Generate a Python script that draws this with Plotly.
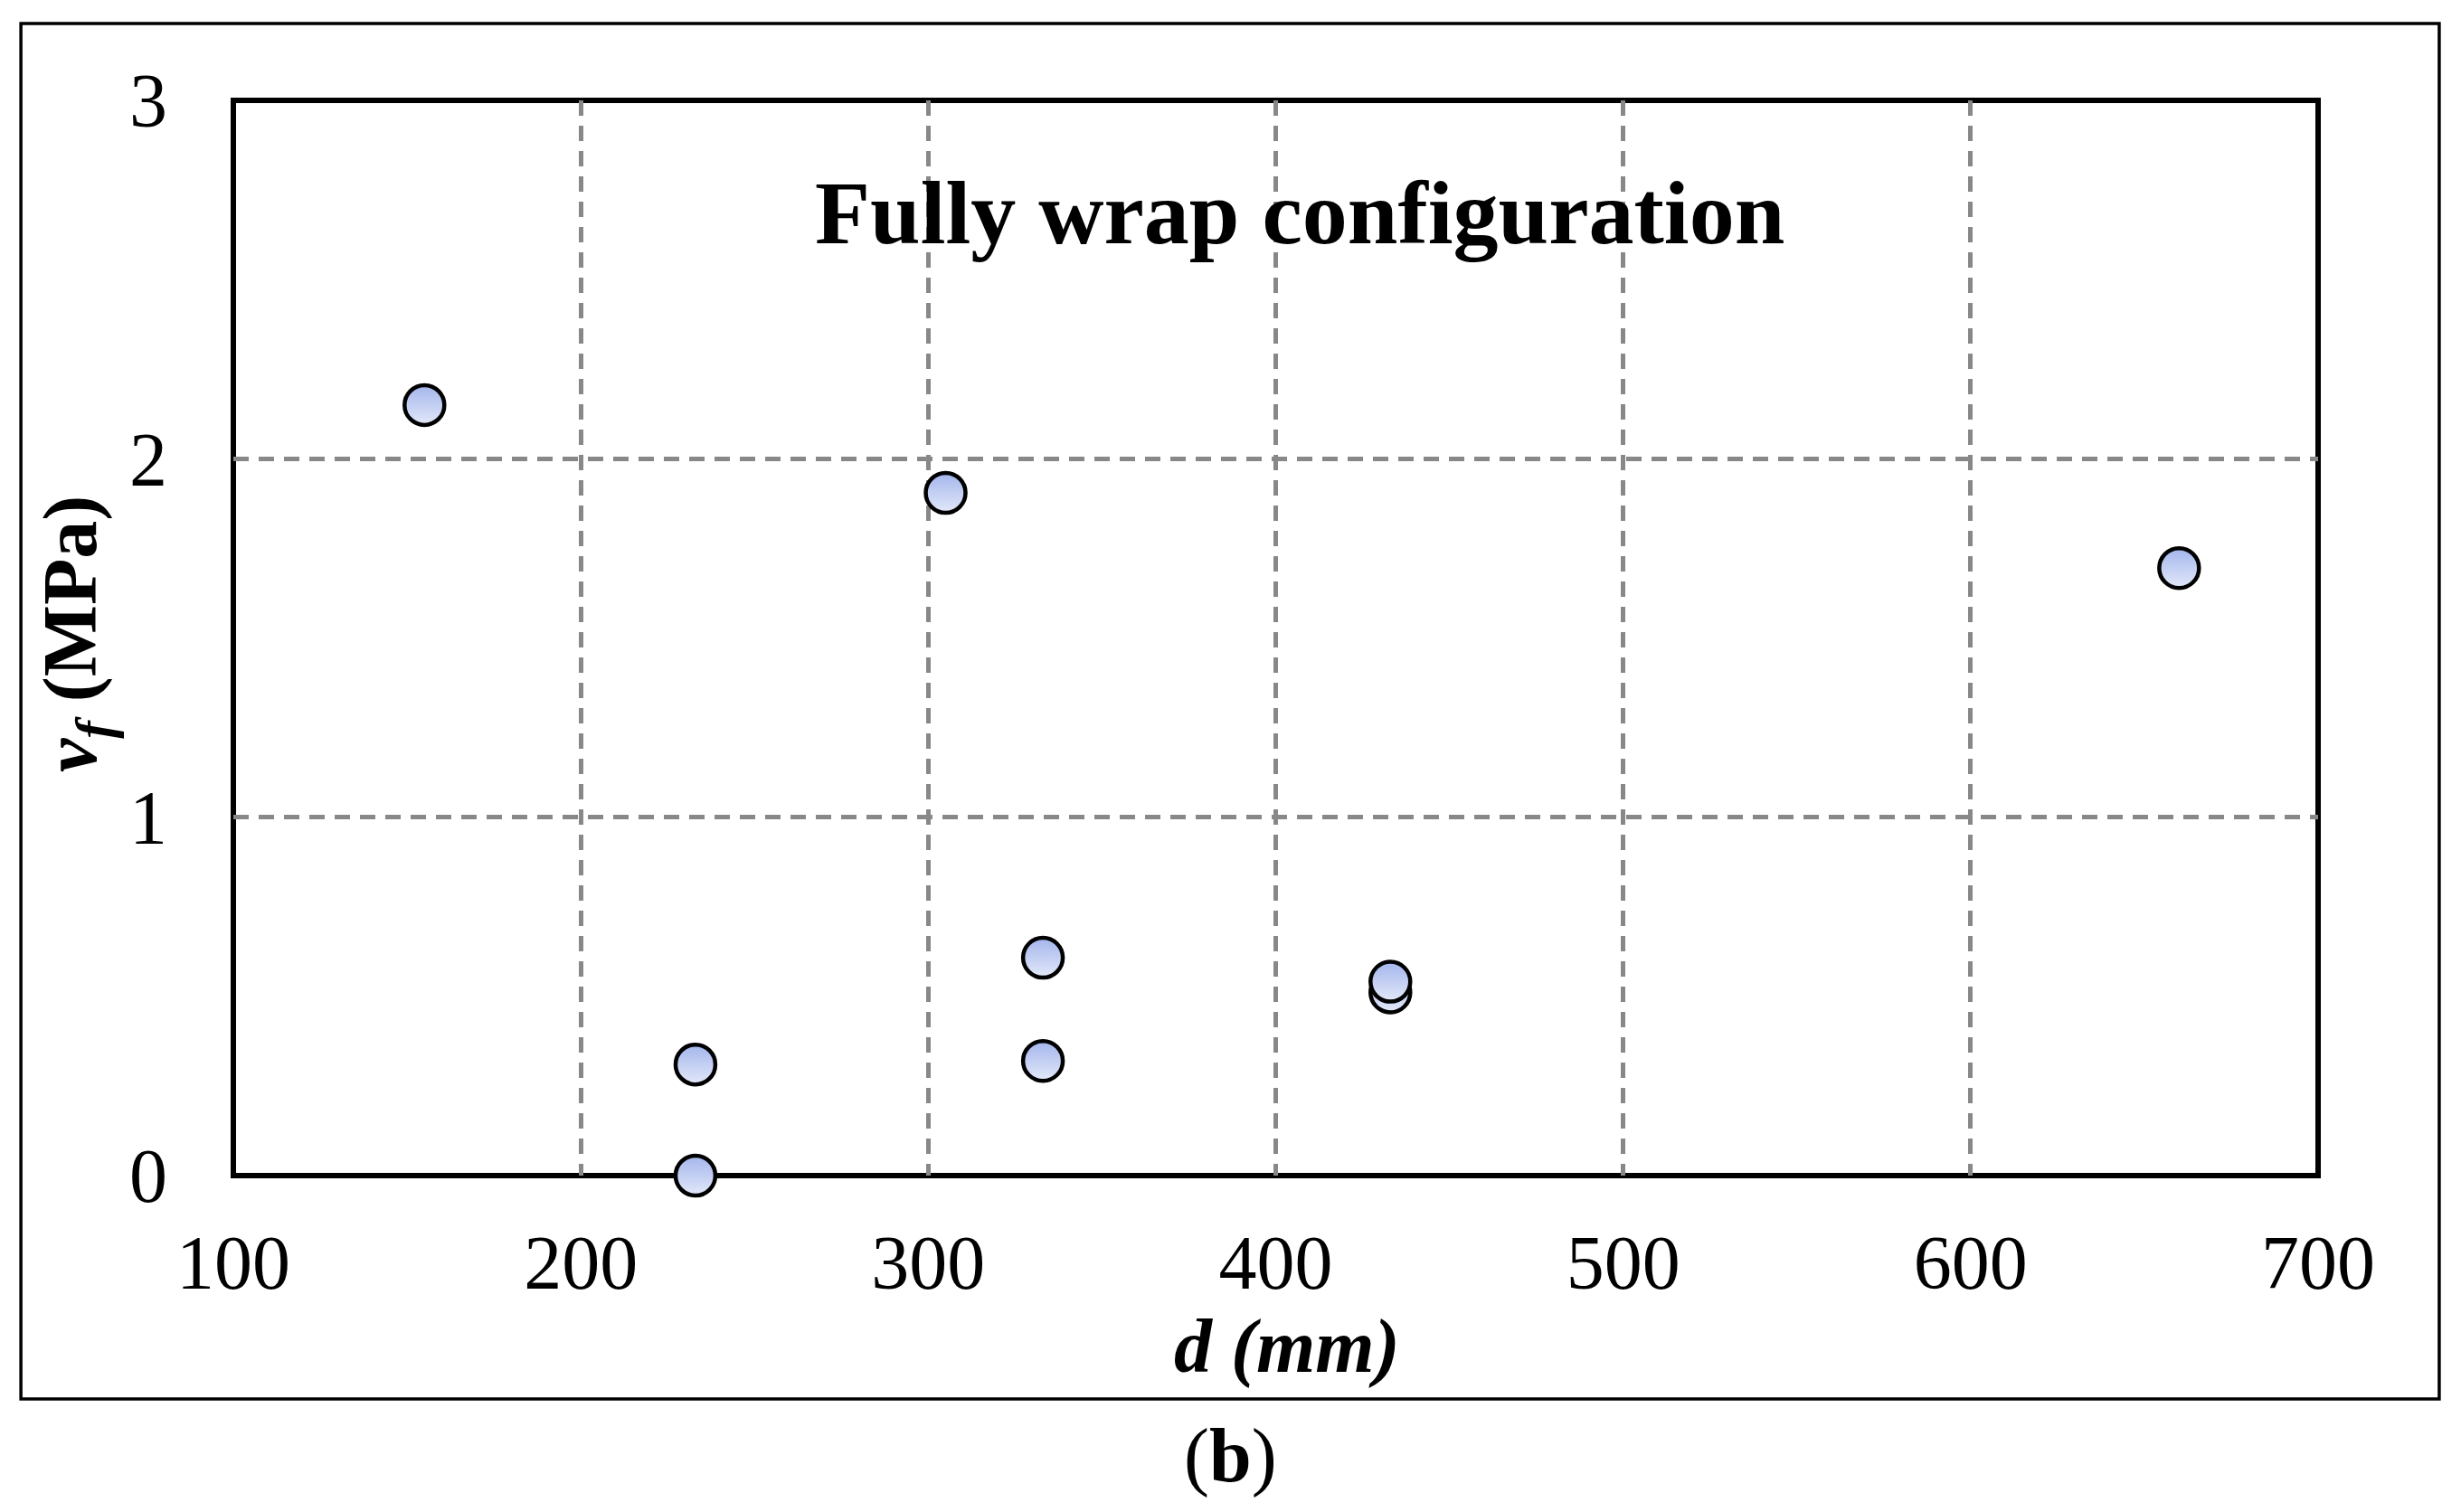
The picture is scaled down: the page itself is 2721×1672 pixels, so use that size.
import plotly.graph_objects as go

# shear contribution of FRP vs effective depth, fully wrapped beams
d_mm = [155, 305, 660, 233, 233, 333, 333, 433, 433]
v_f = [2.15, 1.905, 1.695, 0.31, 0.0, 0.608, 0.32, 0.511, 0.541]

x_ticks = [100, 200, 300, 400, 500, 600, 700]
y_ticks = [0, 1, 2, 3]

serif = "Times New Roman, Liberation Serif, serif"

fig = go.Figure()
fig.add_trace(go.Scatter(x=d_mm, y=v_f, mode='markers', cliponaxis=False,
                         marker=dict(size=44, color='#a3b5ec',
                                     gradient=dict(type='vertical', color='#e3e9f9'),
                                     line=dict(color='black', width=4.5)),
                         showlegend=False, hoverinfo='x+y'))

grid = dict(showgrid=True, gridcolor='#888888', gridwidth=5, griddash='17px,11px',
            zeroline=False, showline=False, ticks='',
            tickfont=dict(family=serif, size=84, color='black'))

fig.update_xaxes(range=[100, 700], tickvals=x_ticks, ticklabelstandoff=40, **grid)
fig.update_yaxes(range=[0, 3], tickvals=y_ticks, ticklabelstandoff=72, **grid)

# page body has an 8px margin, so the figure is a bit smaller than the window
fig.update_layout(width=2705, height=1656, autosize=False,
                  margin=dict(l=250, r=150, t=103, b=364),
                  paper_bgcolor='white', plot_bgcolor='white',
                  font=dict(family=serif, color='black'))

# plot frame and outer box
fig.add_shape(type='rect', xref='paper', yref='paper', x0=0, x1=1, y0=0, y1=1,
              line=dict(color='black', width=6), layer='between')
fig.add_shape(type='rect', xref='paper', yref='paper', x0=-0.1019, x1=1.0581,
              y0=-0.2077, y1=1.0715, line=dict(color='black', width=3.5), layer='below')

fig.add_annotation(text='<b>Fully wrap configuration</b>', xref='paper', yref='paper',
                   x=0.5115, y=0.8957, xanchor='center', yanchor='middle',
                   showarrow=False, font=dict(family=serif, size=100))
fig.add_annotation(text='<b><i>d (mm)</i></b>', xref='paper', yref='paper',
                   x=0.5054, y=-0.1586, xanchor='center', yanchor='middle',
                   showarrow=False, font=dict(family=serif, size=84))
fig.add_annotation(text='<b><i>v</i><sub><i>f</i></sub> (MPa)</b>', xref='paper', yref='paper',
                   x=-0.0752, y=0.5034, xanchor='center', yanchor='middle', textangle=-90,
                   showarrow=False, font=dict(family=serif, size=84))
fig.add_annotation(text='(<b>b</b>)', xref='paper', yref='paper',
                   x=0.4785, y=-0.2604, xanchor='center', yanchor='middle',
                   showarrow=False, font=dict(family=serif, size=84))

fig.write_html("out.html")
